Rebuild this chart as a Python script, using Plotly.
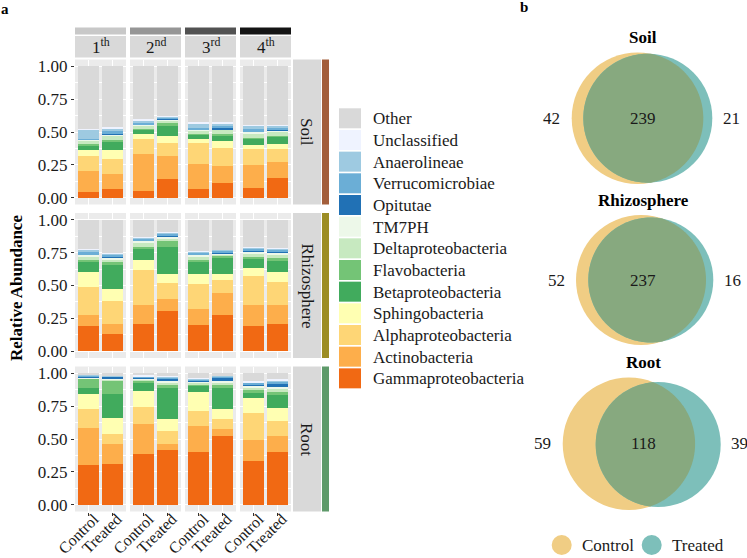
import numpy as np
import plotly.graph_objects as go

# ---------------- data ----------------
CATEGORIES = ["Gammaproteobacteria", "Actinobacteria", "Alphaproteobacteria", "Sphingobacteria",
              "Betaproteobacteria", "Flavobacteria", "Deltaproteobacteria", "TM7PH", "Opitutae",
              "Verrucomicrobiae", "Anaerolineae", "Unclassified", "Other"]
COLORS = ["#F16913", "#FDAE4B", "#FED676", "#FFFFB2", "#41AB5D", "#74C476", "#C7E9C0",
          "#EDF8E9", "#2171B5", "#6BAED6", "#9ECAE1", "#EFF3FF", "#D9D9D9"]
TIMEPOINTS = ["1<sup>th</sup>", "2<sup>nd</sup>", "3<sup>rd</sup>", "4<sup>th</sup>"]
TIME_COLORS = ["#C8C8C8", "#969696", "#525252", "#141414"]
TREATMENTS = ["Control", "Treated"]
COMPARTMENTS = ["Soil", "Rhizosphere", "Root"]
COMP_COLORS = ["#A35E3B", "#9C8D24", "#5E9A6A"]

# rows: categories (bottom -> top); columns: 1C,1T,2C,2T,3C,3T,4C,4T
SOIL = [
    [0.045, 0.068, 0.053, 0.147, 0.065, 0.115, 0.075, 0.148],
    [0.160, 0.110, 0.277, 0.173, 0.190, 0.125, 0.175, 0.122],
    [0.110, 0.117, 0.118, 0.100, 0.165, 0.140, 0.120, 0.100],
    [0.050, 0.070, 0.038, 0.050, 0.025, 0.050, 0.035, 0.040],
    [0.040, 0.070, 0.034, 0.075, 0.040, 0.050, 0.050, 0.060],
    [0.005, 0.005, 0.003, 0.025, 0.003, 0.003, 0.003, 0.003],
    [0.030, 0.040, 0.030, 0.022, 0.030, 0.037, 0.037, 0.032],
    [0.005, 0.005, 0.008, 0.008, 0.007, 0.005, 0.010, 0.010],
    [0.000, 0.007, 0.002, 0.003, 0.000, 0.003, 0.002, 0.005],
    [0.005, 0.015, 0.008, 0.012, 0.005, 0.020, 0.013, 0.015],
    [0.070, 0.025, 0.020, 0.005, 0.040, 0.020, 0.030, 0.015],
    [0.005, 0.005, 0.005, 0.003, 0.005, 0.005, 0.003, 0.003],
    [0.475, 0.463, 0.404, 0.377, 0.425, 0.427, 0.447, 0.447],
]
RHIZO = [
    [0.195, 0.135, 0.205, 0.305, 0.200, 0.275, 0.190, 0.210],
    [0.085, 0.075, 0.145, 0.095, 0.120, 0.170, 0.160, 0.140],
    [0.210, 0.175, 0.270, 0.120, 0.190, 0.100, 0.225, 0.180],
    [0.110, 0.090, 0.075, 0.065, 0.075, 0.040, 0.055, 0.070],
    [0.080, 0.180, 0.085, 0.210, 0.095, 0.130, 0.075, 0.090],
    [0.010, 0.020, 0.010, 0.050, 0.010, 0.010, 0.010, 0.015],
    [0.030, 0.025, 0.030, 0.015, 0.030, 0.010, 0.030, 0.030],
    [0.012, 0.010, 0.020, 0.010, 0.015, 0.010, 0.015, 0.015],
    [0.003, 0.010, 0.003, 0.012, 0.003, 0.008, 0.003, 0.005],
    [0.020, 0.015, 0.012, 0.013, 0.012, 0.012, 0.015, 0.015],
    [0.020, 0.010, 0.007, 0.005, 0.010, 0.005, 0.010, 0.010],
    [0.005, 0.005, 0.003, 0.003, 0.003, 0.003, 0.002, 0.002],
    [0.220, 0.250, 0.135, 0.097, 0.237, 0.227, 0.210, 0.218],
]
ROOT = [
    [0.300, 0.310, 0.390, 0.415, 0.405, 0.520, 0.330, 0.405],
    [0.280, 0.150, 0.225, 0.050, 0.195, 0.055, 0.165, 0.120],
    [0.145, 0.080, 0.125, 0.095, 0.115, 0.080, 0.205, 0.115],
    [0.115, 0.120, 0.125, 0.095, 0.145, 0.070, 0.110, 0.095],
    [0.045, 0.185, 0.070, 0.230, 0.050, 0.160, 0.050, 0.105],
    [0.075, 0.100, 0.010, 0.025, 0.010, 0.035, 0.010, 0.015],
    [0.005, 0.010, 0.010, 0.020, 0.010, 0.015, 0.025, 0.030],
    [0.005, 0.005, 0.010, 0.010, 0.010, 0.005, 0.015, 0.010],
    [0.005, 0.015, 0.005, 0.020, 0.005, 0.030, 0.010, 0.030],
    [0.010, 0.005, 0.005, 0.010, 0.010, 0.010, 0.010, 0.015],
    [0.005, 0.005, 0.005, 0.005, 0.005, 0.005, 0.005, 0.010],
    [0.002, 0.002, 0.002, 0.002, 0.002, 0.002, 0.003, 0.003],
    [0.008, 0.013, 0.018, 0.023, 0.038, 0.013, 0.062, 0.047],
]
Y_TICKS = [0, 0.25, 0.5, 0.75, 1.0]
Y_TICK_TEXT = ["0.00", "0.25", "0.50", "0.75", "1.00"]

VENN_TITLES = ["Soil", "Rhizosphere", "Root"]
CONTROL_ONLY = [42, 52, 59]
SHARED = [239, 237, 118]
TREATED_ONLY = [21, 16, 39]
VENN_LEGEND = ["Control", "Treated"]

# ---------------- layout helpers ----------------
W, H = 747, 558
FONT = "Liberation Serif, Times New Roman, serif"
def fx(x): return x / W
def fy(y): return 1 - y / H

COL_X = [(75, 126), (130, 181), (185, 236), (240, 291)]
ROW_Y = [(59.5, 204.5), (213, 358), (366.5, 511.5)]

fig = go.Figure()
layout = dict(template="none", width=W, height=H, margin=dict(l=0, r=0, t=0, b=0, pad=0),
              autosize=False,
              paper_bgcolor="white", plot_bgcolor="#EBEBEB", barmode="stack",
              showlegend=False, font=dict(family=FONT, size=17, color="#1A1A1A"))
shapes, annots = [], []

for r, data in enumerate([SOIL, RHIZO, ROOT]):
    for c in range(4):
        i = r * 4 + c + 1
        xs = "" if i == 1 else str(i)
        for k, cat in enumerate(CATEGORIES):
            fig.add_trace(go.Bar(x=TREATMENTS, y=[data[k][2 * c], data[k][2 * c + 1]],
                                 marker=dict(color=COLORS[k], line=dict(width=0)),
                                 width=0.9, name=cat, showlegend=False, hoverinfo="skip",
                                 xaxis="x" + xs, yaxis="y" + xs))
        x0, x1 = COL_X[c]
        y0, y1 = ROW_Y[r]
        layout["xaxis" + xs] = dict(
            domain=[fx(x0), fx(x1)], anchor="y" + xs, type="category", automargin=False,
            categoryorder="array", categoryarray=TREATMENTS, range=[-0.6, 1.6],
            showgrid=True, gridcolor="white", gridwidth=1.1, zeroline=False, showline=False,
            showticklabels=(r == 2), ticks="outside" if r == 2 else "", ticklen=3,
            tickcolor="#333333", tickangle=-45, tickfont=dict(family=FONT, size=16, color="#1A1A1A"),
            ticklabelstandoff=-12, ticklabelshift=5,
            fixedrange=True)
        layout["yaxis" + xs] = dict(
            domain=[fy(y1), fy(y0)], anchor="x" + xs, range=[-0.05, 1.05], automargin=False,
            tickmode="array", tickvals=Y_TICKS, ticktext=Y_TICK_TEXT,
            showgrid=True, gridcolor="white", gridwidth=1.1, zeroline=False, showline=False,
            showticklabels=(c == 0), ticks="outside" if c == 0 else "", ticklen=3,
            tickcolor="#333333", tickfont=dict(family=FONT, size=17, color="#1A1A1A"),
            minor=dict(tickmode="array", tickvals=[0.125, 0.375, 0.625, 0.875], showgrid=True,
                       gridcolor="white", gridwidth=0.5, ticks=""),
            fixedrange=True)

# top strips
for c in range(4):
    x0, x1 = COL_X[c]
    shapes.append(dict(type="rect", xref="paper", yref="paper", x0=fx(x0), x1=fx(x1),
                       y0=fy(34.5), y1=fy(27.5), fillcolor=TIME_COLORS[c], line=dict(width=0)))
    shapes.append(dict(type="rect", xref="paper", yref="paper", x0=fx(x0), x1=fx(x1),
                       y0=fy(57.5), y1=fy(36), fillcolor="#D9D9D9", line=dict(width=0)))
    annots.append(dict(x=fx((x0 + x1) / 2), y=fy(46), xref="paper", yref="paper",
                       text=TIMEPOINTS[c], showarrow=False, font=dict(size=17, color="#1A1A1A"),
                       xanchor="center", yanchor="middle"))

# right strips
for r in range(3):
    y0, y1 = ROW_Y[r]
    shapes.append(dict(type="rect", xref="paper", yref="paper", x0=fx(293), x1=fx(321),
                       y0=fy(y1), y1=fy(y0), fillcolor="#D9D9D9", line=dict(width=0)))
    shapes.append(dict(type="rect", xref="paper", yref="paper", x0=fx(322), x1=fx(329),
                       y0=fy(y1), y1=fy(y0), fillcolor=COMP_COLORS[r], line=dict(width=0)))
    annots.append(dict(x=fx(307), y=fy((y0 + y1) / 2), xref="paper", yref="paper",
                       text=COMPARTMENTS[r], textangle=90, showarrow=False,
                       font=dict(size=17, color="#1A1A1A"), xanchor="center", yanchor="middle"))

# axis title and panel letters
annots.append(dict(x=fx(16), y=fy(288), xref="paper", yref="paper", text="<b>Relative Abundance</b>",
                   textangle=-90, showarrow=False, font=dict(size=17, color="black"),
                   xanchor="center", yanchor="middle"))
annots.append(dict(x=fx(5), y=fy(9), xref="paper", yref="paper", text="<b>a</b>", showarrow=False,
                   font=dict(size=15, color="black"), xanchor="center", yanchor="middle"))
annots.append(dict(x=fx(524), y=fy(7), xref="paper", yref="paper", text="<b>b</b>", showarrow=False,
                   font=dict(size=15, color="black"), xanchor="center", yanchor="middle"))

# custom legend
for j, k in enumerate(range(len(CATEGORIES) - 1, -1, -1)):
    top = 108.3 + j * 21.67
    shapes.append(dict(type="rect", xref="paper", yref="paper", x0=fx(339), x1=fx(361),
                       y0=fy(top + 20), y1=fy(top), fillcolor=COLORS[k], line=dict(width=0)))
    annots.append(dict(x=fx(371), y=fy(top + 10.5), xref="paper", yref="paper", text=CATEGORIES[k],
                       showarrow=False, font=dict(size=17, color="#1A1A1A"),
                       xanchor="left", yanchor="middle"))

# Venn diagrams
VC_CTRL = "#F0CD84"
VC_TRT = "#7DBFBA"
VC_BOTH = "#87A97F"
CTRL_CIRC = [(637.5, 118.2, 65.8), (641.0, 280.0, 65.0), (628.9, 443.8, 66.2)]
TRT_CIRC = [(647.8, 118.2, 64.5), (650.8, 280.0, 62.5), (658.2, 444.5, 62.5)]
TITLE_Y = [38, 200, 362]

def circle_shape(cx, cy, rr, color):
    return dict(type="circle", xref="paper", yref="paper", x0=fx(cx - rr), x1=fx(cx + rr),
                y0=fy(cy + rr), y1=fy(cy - rr), fillcolor=color, line=dict(width=0))

def lens_path(c1, c2):
    (x1, y1, r1), (x2, y2, r2) = c1, c2
    d = np.hypot(x2 - x1, y2 - y1)
    a = (r1 ** 2 - r2 ** 2 + d ** 2) / (2 * d)
    th0 = np.arctan2(y2 - y1, x2 - x1)
    al1 = np.arccos(np.clip(a / r1, -1, 1))
    al2 = np.arccos(np.clip((d - a) / r2, -1, 1))
    t1 = np.linspace(th0 - al1, th0 + al1, 120)
    t2 = np.linspace(th0 + np.pi - al2, th0 + np.pi + al2, 120)
    px = np.concatenate([x1 + r1 * np.cos(t1), x2 + r2 * np.cos(t2)])
    py = np.concatenate([y1 + r1 * np.sin(t1), y2 + r2 * np.sin(t2)])
    pts = ["%.5f,%.5f" % (fx(u), fy(v)) for u, v in zip(px, py)]
    return "M " + " L ".join(pts) + " Z"

for v in range(3):
    cc, tc = CTRL_CIRC[v], TRT_CIRC[v]
    shapes.append(circle_shape(*cc, VC_CTRL))
    shapes.append(circle_shape(*tc, VC_TRT))
    shapes.append(dict(type="path", xref="paper", yref="paper", path=lens_path(cc, tc),
                       fillcolor=VC_BOTH, line=dict(width=0)))
    cy = cc[1]
    annots.append(dict(x=fx(643), y=fy(TITLE_Y[v]), xref="paper", yref="paper",
                       text="<b>%s</b>" % VENN_TITLES[v], showarrow=False,
                       font=dict(size=17, color="black"), xanchor="center", yanchor="middle"))
    for xpos, val in [(cc[0] - cc[2] - 20, CONTROL_ONLY[v]),
                      (643, SHARED[v]),
                      (tc[0] + tc[2] + 19, TREATED_ONLY[v])]:
        annots.append(dict(x=fx(xpos), y=fy(cy), xref="paper", yref="paper", text=str(val),
                           showarrow=False, font=dict(size=17, color="#1A1A1A"),
                           xanchor="center", yanchor="middle"))

# Venn legend
for (cx, tx), lab, col in zip([(561.7, 580), (651.7, 670)], VENN_LEGEND, [VC_CTRL, VC_TRT]):
    shapes.append(circle_shape(cx, 545, 10, col))
    annots.append(dict(x=fx(tx), y=fy(545), xref="paper", yref="paper", text=lab, showarrow=False,
                       font=dict(size=17, color="#1A1A1A"), xanchor="left", yanchor="middle"))

layout["shapes"] = shapes
layout["annotations"] = annots
fig.update_layout(**layout)
fig.write_html("out.html", config={"displayModeBar": False},
               post_script="document.body.style.margin='0px';document.body.style.overflow='hidden';")
